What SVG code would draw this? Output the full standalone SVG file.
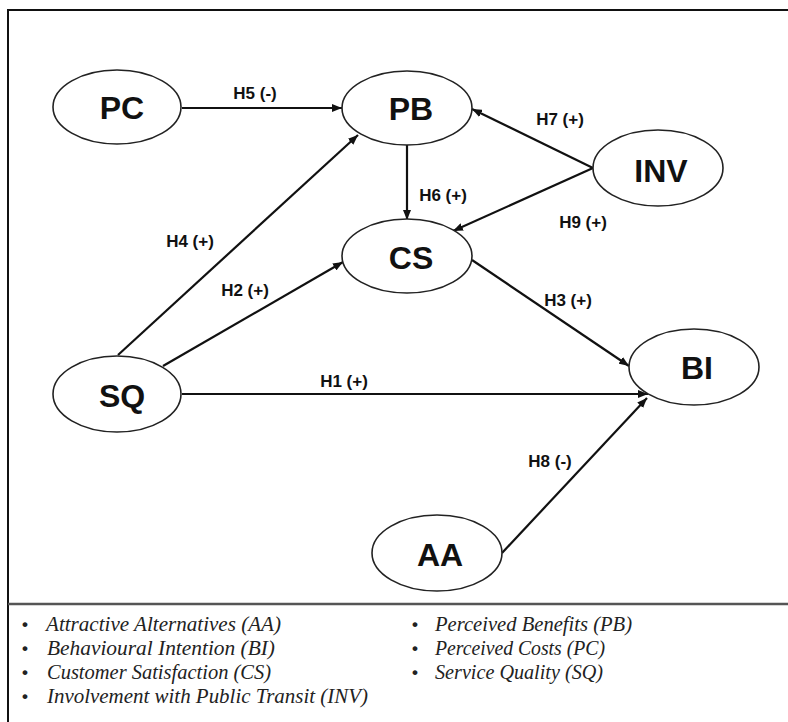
<svg xmlns="http://www.w3.org/2000/svg" width="788" height="722" viewBox="0 0 788 722">
  <defs>
    <marker id="arrow" markerUnits="userSpaceOnUse" markerWidth="10" markerHeight="8" refX="10" refY="4" orient="auto">
      <path d="M0,0 L10,4 L0,8 z" fill="#111"/>
    </marker>
    <style>
      .node ellipse { fill: #fff; stroke: #222; stroke-width: 1.6; }
      .node text { font-family: "Liberation Sans", Arial, sans-serif; font-weight: bold; font-size: 32px; fill: #111; text-anchor: middle; }
      .edge { stroke: #111; stroke-width: 2.2; fill: none; marker-end: url(#arrow); }
      .elabel { font-family: "Liberation Sans", Arial, sans-serif; font-weight: bold; font-size: 17px; fill: #111; text-anchor: middle; }
      .legend { font-family: "Liberation Serif", "Times New Roman", serif; font-style: italic; font-size: 20px; fill: #222; }
      .bullet { font-family: "Liberation Sans", Arial, sans-serif; font-weight: bold; font-size: 17px; fill: #222; }
    </style>
  </defs>

  <rect width="788" height="722" fill="#fff"/>

  <!-- frame -->
  <g id="frame">
    <line x1="7" y1="10" x2="788" y2="10" stroke="#111" stroke-width="2.2"/>
    <line x1="8" y1="9" x2="8" y2="722" stroke="#111" stroke-width="2"/>
    <line x1="8" y1="604" x2="788" y2="604" stroke="#555" stroke-width="2.5"/>
  </g>

  <!-- connectors -->
  <g id="connectors">
    <line class="edge" x1="182" y1="108" x2="342" y2="108"/>
    <line class="edge" x1="118" y1="355" x2="358" y2="135"/>
    <line class="edge" x1="163" y1="366" x2="343" y2="262"/>
    <line class="edge" x1="407" y1="145" x2="407" y2="220"/>
    <line class="edge" x1="593" y1="168" x2="472" y2="109"/>
    <line class="edge" x1="593" y1="168" x2="453" y2="231"/>
    <line class="edge" x1="472" y1="260" x2="629" y2="366"/>
    <line class="edge" x1="182" y1="394" x2="648" y2="394"/>
    <line class="edge" x1="502" y1="553" x2="647" y2="398"/>

    <text class="elabel" x="255" y="99">H5 (-)</text>
    <text class="elabel" x="560" y="125">H7 (+)</text>
    <text class="elabel" x="443" y="201">H6 (+)</text>
    <text class="elabel" x="583" y="228">H9 (+)</text>
    <text class="elabel" x="190" y="247">H4 (+)</text>
    <text class="elabel" x="245" y="296">H2 (+)</text>
    <text class="elabel" x="568" y="306">H3 (+)</text>
    <text class="elabel" x="344" y="387">H1 (+)</text>
    <text class="elabel" x="550" y="467">H8 (-)</text>
  </g>

  <!-- nodes -->
  <g id="PC" class="node">
    <ellipse cx="117" cy="107" rx="64" ry="37"/>
    <text x="122" y="118.5">PC</text>
  </g>
  <g id="PB" class="node">
    <ellipse cx="407" cy="108" rx="65" ry="37"/>
    <text x="411" y="119.5">PB</text>
  </g>
  <g id="INV" class="node">
    <ellipse cx="658" cy="168" rx="65" ry="38"/>
    <text x="661" y="181.5">INV</text>
  </g>
  <g id="CS" class="node">
    <ellipse cx="407" cy="256" rx="65" ry="37"/>
    <text x="411" y="268.5">CS</text>
  </g>
  <g id="SQ" class="node">
    <ellipse cx="117" cy="394" rx="64" ry="38"/>
    <text x="122" y="407">SQ</text>
  </g>
  <g id="BI" class="node">
    <ellipse cx="694" cy="367" rx="65" ry="38"/>
    <text x="697" y="378.5">BI</text>
  </g>
  <g id="AA" class="node">
    <ellipse cx="437" cy="553" rx="65" ry="38"/>
    <text x="440" y="565.5">AA</text>
  </g>

  <!-- legend -->
  <g id="legend">
    <text class="bullet" x="22" y="630">•</text>
    <text class="bullet" x="22" y="654">•</text>
    <text class="bullet" x="22" y="678">•</text>
    <text class="bullet" x="22" y="702">•</text>
    <text class="bullet" x="412" y="630">•</text>
    <text class="bullet" x="412" y="654">•</text>
    <text class="bullet" x="412" y="678">•</text>

    <text class="legend" x="46" y="631" textLength="235" lengthAdjust="spacingAndGlyphs">Attractive Alternatives (AA)</text>
    <text class="legend" x="47" y="655" textLength="228" lengthAdjust="spacingAndGlyphs">Behavioural Intention (BI)</text>
    <text class="legend" x="47" y="679" textLength="224" lengthAdjust="spacingAndGlyphs">Customer Satisfaction (CS)</text>
    <text class="legend" x="47" y="703" textLength="321" lengthAdjust="spacingAndGlyphs">Involvement with Public Transit (INV)</text>
    <text class="legend" x="435" y="631" textLength="197" lengthAdjust="spacingAndGlyphs">Perceived Benefits (PB)</text>
    <text class="legend" x="435" y="655" textLength="170" lengthAdjust="spacingAndGlyphs">Perceived Costs (PC)</text>
    <text class="legend" x="435" y="679" textLength="168" lengthAdjust="spacingAndGlyphs">Service Quality (SQ)</text>
  </g>
</svg>
